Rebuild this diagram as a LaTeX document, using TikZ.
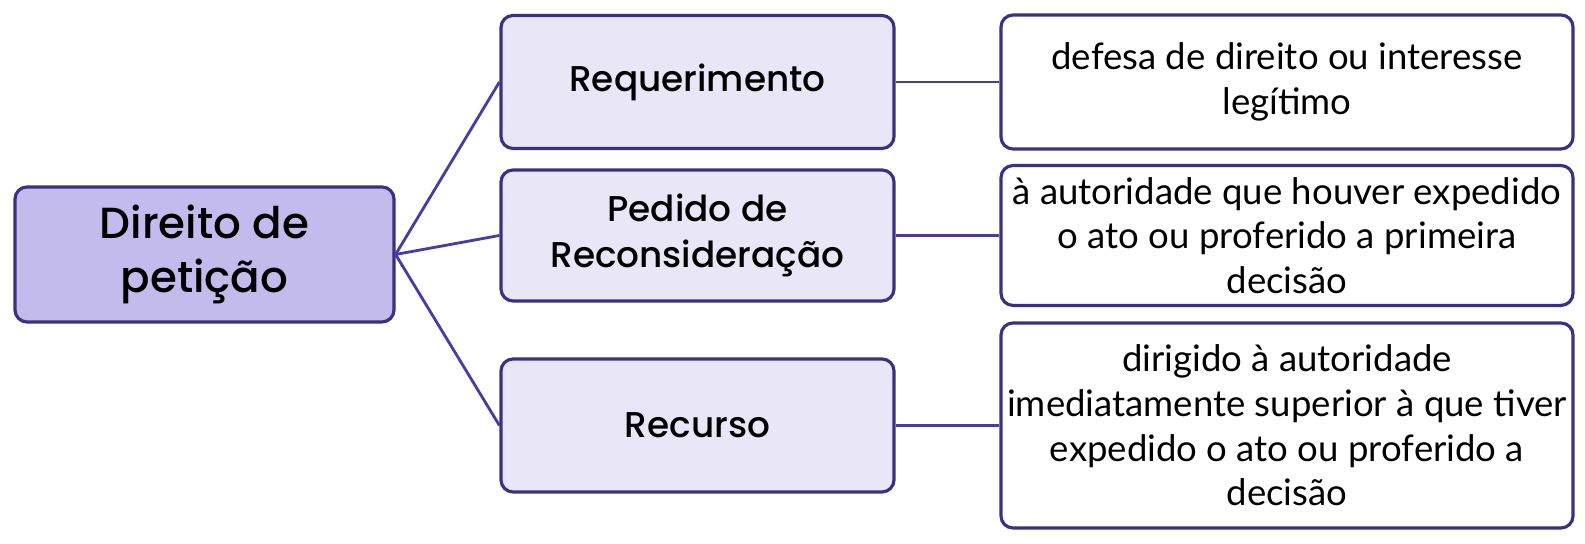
\documentclass[tikz,border=0pt]{standalone}
\usepackage{fontspec}
\setmainfont{Lato}
\newfontfamily\headfont{Poppins Medium}
\definecolor{rootfill}{HTML}{C3BBEB}
\definecolor{midfill}{HTML}{E9E6F7}
\definecolor{edgecol}{HTML}{3B3180}
\definecolor{linkcol}{HTML}{4A3AA6}
\tikzset{
	rootbox/.style={draw=edgecol,line width=0.9pt,fill=rootfill,rounded corners=1.2mm,minimum width=3.79cm,minimum height=1.35cm,align=center,font=\headfont\fontsize{12.4}{15.5}\selectfont},
	midbox/.style={draw=edgecol,line width=0.9pt,fill=midfill,rounded corners=1.2mm,minimum width=3.93cm,minimum height=1.33cm,align=center,font=\headfont\fontsize{10.2}{13.3}\selectfont},
	notebox/.style={draw=edgecol,line width=0.9pt,fill=white,rounded corners=1.2mm,minimum width=5.72cm,inner xsep=1pt,align=center,font=\fontsize{10.4}{12.7}\selectfont},
	link/.style={draw=linkcol,line width=0.8pt}
}
\begin{document}
\begin{tikzpicture}
		\useasboundingbox (0,0) rectangle (15.85,5.44);
		\draw (2.045,2.895) node (dp)[rootbox]{Direito de\\peti\c{c}\~ao};

		\draw (6.975,4.62) node (req)[midbox]{Requerimento};
		\draw (6.975,3.085) node (ped)[midbox,minimum height=1.31cm]{Pedido de\\Reconsidera\c{c}\~ao};
		\draw (6.975,1.185) node (rec)[midbox]{Recurso};

		\draw (12.87,4.62) node (n1)[notebox,minimum height=1.34cm]{defesa de direito ou interesse\\leg\'itimo};
		\draw (12.87,3.085) node (n2)[notebox,minimum height=1.31cm]{\`a autoridade que houver expedido\\o ato ou proferido a primeira\\decis\~ao};
		\draw (12.87,1.185) node (n3)[notebox,minimum height=2.05cm]{dirigido \`a autoridade\\imediatamente superior \`a que tiver\\expedido o ato ou proferido a\\decis\~ao};

		\draw[link] (dp.east)--(req.west);
		\draw[link] (dp.east)--(ped.west);
		\draw[link] (dp.east)--(rec.west);
		\draw[link] (req.east)--(n1.west);
		\draw[link] (ped.east)--(n2.west);
		\draw[link] (rec.east)--(n3.west);
	\end{tikzpicture}
\end{document}
